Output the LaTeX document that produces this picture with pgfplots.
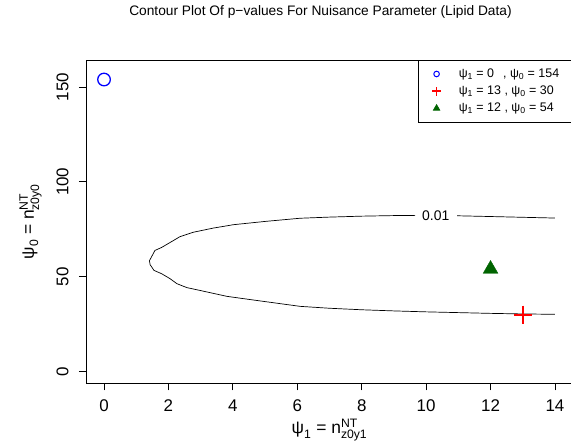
\documentclass[border=0pt]{standalone}
\usepackage{amsmath}
\usepackage{fontspec}
\setmainfont{Liberation Sans}
\usepackage{pgfplots}
\pgfplotsset{compat=1.18}
\definecolor{rblue}{RGB}{0,0,255}
\definecolor{rred}{RGB}{255,0,0}
\definecolor{rgreen}{RGB}{0,100,0}
\begin{document}
\begin{tikzpicture}
\path[use as bounding box] (-86bp,-59.7bp) rectangle (485bp,383.3bp);
\clip (-86bp,-59.7bp) rectangle (485bp,383.3bp);
\begin{axis}[
  at={(0,0)}, anchor=south west,
  scale only axis,
  width=487bp, height=323.3bp,
  xmin=-0.56, xmax=14.56,
  ymin=-6.3, ymax=164.3,
  xtick={0,2,...,14},
  ytick={0,50,100,150},
  xtick pos=bottom, ytick pos=left,
  tick align=outside,
  major tick length=7bp,
  minor tick num=0,
  axis line style={line width=0.8pt},
  every tick/.style={black, line width=0.8pt},
  /pgf/number format/assume math mode=true,
  tick label style={font=\fontsize{17}{20}\selectfont},
  yticklabel style={rotate=90, anchor=south},
  yticklabel shift=7bp,
  xticklabel shift=6bp,
  xlabel={$\text{ψ}_{\text{1}}\text{ = n}^{\text{NT}}_{\text{z0y1}}$},
  ylabel={$\text{ψ}_{\text{0}}\text{ = n}^{\text{NT}}_{\text{z0y0}}$},
  label style={font=\fontsize{17.5}{20}\selectfont},
  xlabel style={at={([yshift=-50.5bp]axis description cs:0.5,0)}, anchor=base},
  ylabel style={at={([xshift=-52bp]axis description cs:0,0.5)}, anchor=base},
  title={Contour Plot Of p\textminus values For Nuisance Parameter (Lipid Data)},
  title style={at={([xshift=-9bp,yshift=39bp]axis description cs:0.5,1)}, anchor=base, font=\fontsize{13.8}{16}\selectfont},
  legend style={at={(axis description cs:0.6817,1)}, anchor=north west, draw=black, line width=0.8pt,
    font=\fontsize{12.5}{14}\selectfont, inner xsep=13bp, inner ysep=6.5bp, row sep=3bp,
    legend cell align=left,
    nodes={inner xsep=10bp}},
]
% contour p = 0.01
\addplot[black, line width=0.7pt, forget plot] coordinates {
(9.66,82.3) (9,82.2) (8,81.9) (7,81.4) (6.09,80.8) (5.05,79.2) (4.02,77.4)
(3.39,75.6) (2.77,73.4) (2.36,71.1) (2.10,68.5) (1.79,65.4) (1.58,63.8)
(1.48,60.6) (1.41,58.4) (1.43,56.3) (1.55,53.3) (1.79,51.5) (2.05,48.9)
(2.26,46.3) (2.57,44.2) (2.98,42.7) (3.81,39.6) (4.53,37.9) (6.09,34.3)
(7,33.3) (8,32.5) (9,31.9) (10,31.4) (11,31.0) (12,30.6) (13,30.3) (14,30.1)
};
\addplot[black, line width=0.7pt, forget plot] coordinates {
(10.96,82.1) (12,81.7) (13,81.3) (14,80.9)
};
\node[font=\fontsize{14}{16}\selectfont, inner sep=0pt] at (axis cs:10.3,81.9) {0.01};
% points
\addplot[only marks, mark=o, mark size=6.3bp, rblue, line width=1.3pt, forget plot] coordinates {(0,154)};
\addplot[only marks, mark=+, mark size=9bp, rred, line width=2pt, forget plot] coordinates {(13,30)};
\addplot[only marks, mark=triangle*, mark size=8.5bp, rgreen, forget plot] coordinates {(12,54)};
% legend
\addlegendimage{only marks, mark=o, mark size=2.8bp, color=rblue, mark options={draw=rblue, line width=1pt}}
\addlegendentry{\hspace{7bp}ψ\textsubscript{1} = 0\hspace{9bp}, ψ\textsubscript{0} = 154}
\addlegendimage{legend image code/.code={
  \draw[draw=rred, line width=1.4pt] (0.3cm-4.5bp,0pt) -- (0.3cm+4.5bp,0pt);
  \draw[draw=rred, line width=1.4pt] (0.3cm,-4.5bp) -- (0.3cm,4.5bp);}}
\addlegendentry{\hspace{7bp}ψ\textsubscript{1} = 13 , ψ\textsubscript{0} = 30}
\addlegendimage{only marks, mark=triangle*, mark size=3.6bp, color=rgreen, mark options={draw=rgreen, fill=rgreen}}
\addlegendentry{\hspace{7bp}ψ\textsubscript{1} = 12 , ψ\textsubscript{0} = 54}
\end{axis}
\end{tikzpicture}
\end{document}
